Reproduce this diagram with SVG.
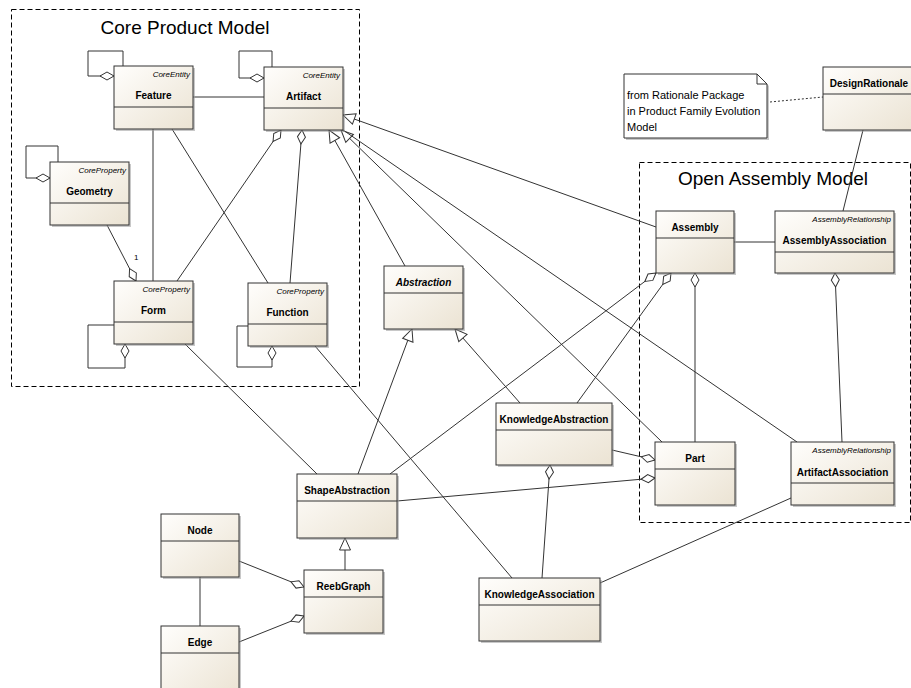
<svg xmlns="http://www.w3.org/2000/svg" width="911" height="688" viewBox="0 0 911 688">
<defs>
<linearGradient id="g" x1="0" y1="0" x2="1" y2="1">
<stop offset="0" stop-color="#FFFEFC"/>
<stop offset="1" stop-color="#EBE3D3"/>
</linearGradient>
<marker id="agg" viewBox="-15 -6 16 12" refX="0" refY="0" markerWidth="16" markerHeight="12" markerUnits="userSpaceOnUse" orient="auto">
<path d="M0,0 L-7,-4 L-14,0 L-7,4 Z" fill="#fff" stroke="#333" stroke-width="1"/>
</marker>
<marker id="tri" viewBox="-14 -7 15 14" refX="0" refY="0" markerWidth="15" markerHeight="14" markerUnits="userSpaceOnUse" orient="auto">
<path d="M0,0 L-12,-5.5 L-12,5.5 Z" fill="#fff" stroke="#333" stroke-width="1"/>
</marker>
</defs>
<style>
.box{fill:url(#g);stroke:#333;stroke-width:1}
.sh{fill:#9a9a9a;opacity:.55}
.dv{stroke:#333;stroke-width:1}
.nm{font-family:"Liberation Sans",Arial,sans-serif;font-size:10px;font-weight:bold;text-anchor:middle;fill:#000}
.it{font-style:italic}
.st{font-family:"Liberation Sans",Arial,sans-serif;font-size:8px;font-style:italic;text-anchor:end;fill:#000}
.pk{fill:none;stroke:#000;stroke-width:1;stroke-dasharray:5,3}
.pt{font-family:"Liberation Sans",Arial,sans-serif;font-size:19px;text-anchor:middle;fill:#000}
.c{fill:none;stroke:#333;stroke-width:1}
.a{marker-end:url(#agg)}
.t{marker-end:url(#tri)}
.nt{font-family:"Liberation Sans",Arial,sans-serif;font-size:11px;fill:#000}
.lb{font-family:"Liberation Sans",Arial,sans-serif;font-size:8px;fill:#000}
</style>
<rect width="911" height="688" fill="#fff"/>

<g id="pkg-core">
<rect class="pk" x="11.5" y="9.5" width="348" height="377"/>
<text class="pt" x="185" y="34">Core Product Model</text>
</g>
<g id="pkg-assembly">
<rect class="pk" x="639.5" y="162.5" width="271" height="360"/>
<text class="pt" x="773" y="185">Open Assembly Model</text>
</g>

<g id="connectors">
<path class="c a" d="M123,66 V51 H88 V76 H114"/>
<path class="c a" d="M272,67 V51 H239 V78 H264"/>
<path class="c a" d="M58,162 V146 H26 V178 H50"/>
<path class="c a" d="M114,325 H88 V368 H125 V344"/>
<path class="c a" d="M248,326 H237 V367 H272 V346"/>
<path class="c" d="M193,97 H264"/>
<path class="c" d="M153,129 V281"/>
<path class="c" d="M172,129 L268,283"/>
<path class="c a" d="M107,225 L136,281"/>
<text class="lb" x="134" y="260">1</text>
<path class="c a" d="M177,281 L281,130"/>
<path class="c a" d="M290,283 L302,130"/>
<path class="c t" d="M405,266 L329,130"/>
<path class="c t" d="M662,442 L341,130"/>
<path class="c t" d="M656,227 L343,115"/>
<path class="c" d="M797,442 L343,130"/>
<path class="c t" d="M358,474 L412,329"/>
<path class="c t" d="M520,403 L455,329"/>
<path class="c t" d="M345,570 V538"/>
<path class="c a" d="M239,561 L304,587"/>
<path class="c a" d="M239,642 L304,616"/>
<path class="c" d="M200,577 V626"/>
<path class="c" d="M185,344 L317,474"/>
<path class="c" d="M315,346 L512,578"/>
<path class="c a" d="M390,474 L656,273"/>
<path class="c a" d="M577,403 L671,273"/>
<path class="c a" d="M695,442 V273"/>
<path class="c a" d="M842,442 L835,273"/>
<path class="c" d="M734,242 H775"/>
<path class="c" d="M863,130 L843,211"/>
<path class="c" stroke-dasharray="2,2" d="M770,102 L823,97"/>
<path class="c a" d="M612,450 L655,460"/>
<path class="c a" d="M397,501 L655,478"/>
<path class="c a" d="M542,578 L550,465"/>
<path class="c" d="M600,583 L791,498"/>
</g>

<g id="note">
<path class="sh" d="M626,76 H759 L769,86 V140 H626 Z"/>
<path d="M624,74 H757 L767,84 V138 H624 Z" fill="#fff" stroke="#333"/>
<path d="M757,74 V84 H767" fill="none" stroke="#333"/>
<text class="nt" x="627" y="99">from Rationale Package</text>
<text class="nt" x="627" y="115">in Product Family Evolution</text>
<text class="nt" x="627" y="131">Model</text>
</g>

<g id="Feature">
<rect class="sh" x="116" y="68" width="79" height="63"/>
<rect class="box" x="114" y="66" width="79" height="63"/>
<line class="dv" x1="114" y1="107" x2="193" y2="107"/>
<text class="st" x="190" y="77">CoreEntity</text>
<text class="nm" x="153.5" y="99">Feature</text>
</g>
<g id="Artifact">
<rect class="sh" x="266" y="69" width="79" height="63"/>
<rect class="box" x="264" y="67" width="79" height="63"/>
<line class="dv" x1="264" y1="108" x2="343" y2="108"/>
<text class="st" x="340" y="78">CoreEntity</text>
<text class="nm" x="303.5" y="100">Artifact</text>
</g>
<g id="Geometry">
<rect class="sh" x="52" y="164" width="79" height="63"/>
<rect class="box" x="50" y="162" width="79" height="63"/>
<line class="dv" x1="50" y1="203" x2="129" y2="203"/>
<text class="st" x="126" y="173">CoreProperty</text>
<text class="nm" x="89.5" y="195">Geometry</text>
</g>
<g id="Form">
<rect class="sh" x="116" y="283" width="79" height="63"/>
<rect class="box" x="114" y="281" width="79" height="63"/>
<line class="dv" x1="114" y1="322" x2="193" y2="322"/>
<text class="st" x="190" y="292">CoreProperty</text>
<text class="nm" x="153.5" y="314">Form</text>
</g>
<g id="Function">
<rect class="sh" x="250" y="285" width="79" height="63"/>
<rect class="box" x="248" y="283" width="79" height="63"/>
<line class="dv" x1="248" y1="324" x2="327" y2="324"/>
<text class="st" x="324" y="294">CoreProperty</text>
<text class="nm" x="287.5" y="316">Function</text>
</g>
<g id="Abstraction">
<rect class="sh" x="386" y="268" width="79" height="63"/>
<rect class="box" x="384" y="266" width="79" height="63"/>
<line class="dv" x1="384" y1="293" x2="463" y2="293"/>
<text class="nm it" x="423.5" y="286">Abstraction</text>
</g>
<g id="Assembly">
<rect class="sh" x="658" y="213" width="78" height="62"/>
<rect class="box" x="656" y="211" width="78" height="62"/>
<line class="dv" x1="656" y1="238" x2="734" y2="238"/>
<text class="nm" x="695" y="231">Assembly</text>
</g>
<g id="AssemblyAssociation">
<rect class="sh" x="777" y="213" width="119" height="62"/>
<rect class="box" x="775" y="211" width="119" height="62"/>
<line class="dv" x1="775" y1="252" x2="894" y2="252"/>
<text class="st" x="891" y="222">AssemblyRelationship</text>
<text class="nm" x="834.5" y="244">AssemblyAssociation</text>
</g>
<g id="DesignRationale">
<rect class="sh" x="825" y="69" width="92" height="63"/>
<rect class="box" x="823" y="67" width="92" height="63"/>
<line class="dv" x1="823" y1="94" x2="915" y2="94"/>
<text class="nm" x="869" y="87">DesignRationale</text>
</g>
<g id="KnowledgeAbstraction">
<rect class="sh" x="498" y="405" width="116" height="62"/>
<rect class="box" x="496" y="403" width="116" height="62"/>
<line class="dv" x1="496" y1="430" x2="612" y2="430"/>
<text class="nm" x="554" y="423">KnowledgeAbstraction</text>
</g>
<g id="Part">
<rect class="sh" x="657" y="444" width="80" height="63"/>
<rect class="box" x="655" y="442" width="80" height="63"/>
<line class="dv" x1="655" y1="469" x2="735" y2="469"/>
<text class="nm" x="695" y="462">Part</text>
</g>
<g id="ArtifactAssociation">
<rect class="sh" x="793" y="444" width="103" height="63"/>
<rect class="box" x="791" y="442" width="103" height="63"/>
<line class="dv" x1="791" y1="483" x2="894" y2="483"/>
<text class="st" x="891" y="453">AssemblyRelationship</text>
<text class="nm" x="842.5" y="476">ArtifactAssociation</text>
</g>
<g id="ShapeAbstraction">
<rect class="sh" x="299" y="476" width="100" height="64"/>
<rect class="box" x="297" y="474" width="100" height="64"/>
<line class="dv" x1="297" y1="501" x2="397" y2="501"/>
<text class="nm" x="347" y="494">ShapeAbstraction</text>
</g>
<g id="Node">
<rect class="sh" x="163" y="516" width="78" height="63"/>
<rect class="box" x="161" y="514" width="78" height="63"/>
<line class="dv" x1="161" y1="541" x2="239" y2="541"/>
<text class="nm" x="200" y="534">Node</text>
</g>
<g id="ReebGraph">
<rect class="sh" x="306" y="572" width="79" height="63"/>
<rect class="box" x="304" y="570" width="79" height="63"/>
<line class="dv" x1="304" y1="597" x2="383" y2="597"/>
<text class="nm" x="343.5" y="590">ReebGraph</text>
</g>
<g id="KnowledgeAssociation">
<rect class="sh" x="481" y="580" width="121" height="63"/>
<rect class="box" x="479" y="578" width="121" height="63"/>
<line class="dv" x1="479" y1="605" x2="600" y2="605"/>
<text class="nm" x="539.5" y="598">KnowledgeAssociation</text>
</g>
<g id="Edge">
<rect class="sh" x="163" y="628" width="78" height="70"/>
<rect class="box" x="161" y="626" width="78" height="70"/>
<line class="dv" x1="161" y1="653" x2="239" y2="653"/>
<text class="nm" x="200" y="646">Edge</text>
</g>
</svg>
